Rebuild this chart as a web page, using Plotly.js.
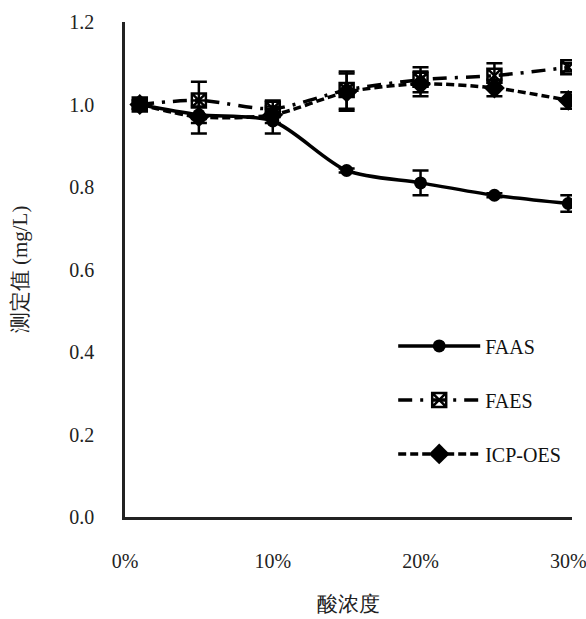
<!DOCTYPE html>
<html>
<head>
<meta charset="utf-8">
<script src="https://cdn.plot.ly/plotly-3.0.1.min.js"></script>
<style>html,body{margin:0;padding:0;background:#fff;}#chart{width:586px;height:619px;}</style>
</head>
<body>
<div id="chart"></div>
<script>
var acidConc = [1, 5, 10, 15, 20, 25, 30];
var faas = [1.00, 0.975, 0.96, 0.84, 0.81, 0.78, 0.76];
var faasErr = [0.01, 0.02, 0.03, 0.005, 0.03, 0.005, 0.02];
var faes = [1.00, 1.01, 0.99, 1.035, 1.06, 1.07, 1.09];
var faesErr = [0.01, 0.045, 0.02, 0.045, 0.03, 0.03, 0.01];
var icp = [1.00, 0.97, 0.975, 1.03, 1.05, 1.04, 1.01];
var icpErr = [0.01, 0.04, 0.02, 0.045, 0.03, 0.02, 0.02];
var xTickVals = [0, 10, 20, 30];
var xTickText = ['0%', '10%', '20%', '30%'];
var yTickVals = [0, 0.2, 0.4, 0.6, 0.8, 1.0, 1.2];
var yTickText = ['0.0', '0.2', '0.4', '0.6', '0.8', '1.0', '1.2'];

var serif = 'Liberation Serif';
function err(a){ return {type:'data', array:a, visible:true, color:'#000', thickness:2.5, width:8}; }

var traces = [
  {x: acidConc, y: faas, name: 'FAAS', legendgroup:'a', mode:'lines+markers',
   line:{color:'#000', width:3.5, shape:'spline', smoothing:0.8},
   marker:{symbol:'circle', size:13, color:'#000'}, error_y: err(faasErr)},
  {x: acidConc, y: faes, name: 'FAES', legendgroup:'b', mode:'lines+markers',
   line:{color:'#000', width:3.5, dash:'14px,8px,3px,8px', shape:'spline', smoothing:0.8},
   marker:{symbol:'square-x-open', size:14, color:'#000', line:{width:2.5, color:'#000'}}, error_y: err(faesErr)},
  {x: acidConc, y: icp, name: 'ICP-OES', legendgroup:'c', mode:'lines+markers',
   line:{color:'#000', width:3.5, dash:'8px,4px', shape:'spline', smoothing:0.8},
   marker:{symbol:'diamond', size:16, color:'#000'}, error_y: err(icpErr)}
];

var layout = {
  width:586, height:619,
  margin:{l:125, r:14, t:22, b:102},
  paper_bgcolor:'#fff', plot_bgcolor:'#fff',
  font:{family:serif, size:20, color:'#222'},
  showlegend:true,
  legend:{x:0.6, y:0.385, xanchor:'left', yanchor:'top', bgcolor:'rgba(0,0,0,0)',
          font:{family:serif, size:20, color:'#111'}, tracegroupgap:25, itemwidth:82},
  xaxis:{range:[0,30.25], tickvals:xTickVals, ticktext:xTickText, showgrid:false, zeroline:false,
         showline:true, linecolor:'#222', linewidth:2.5, ticks:'', ticklabelstandoff:24,
         ticklabeloverflow:'allow',
         tickfont:{family:serif, size:20, color:'#222'},
         title:{text:'酸浓度', font:{family:serif, size:21, color:'#222'}, standoff:26}},
  yaxis:{range:[0,1.2], tickvals:yTickVals, ticktext:yTickText, showgrid:false, zeroline:false,
         showline:true, linecolor:'#222', linewidth:2.5, ticks:'', ticklabelstandoff:24,
         tickfont:{family:serif, size:20, color:'#222'},
         title:{text:'测定值 (mg/L)', font:{family:serif, size:21, color:'#222'}, standoff:36}}
};
Plotly.newPlot('chart', traces, layout, {displayModeBar:false});
</script>
</body>
</html>
